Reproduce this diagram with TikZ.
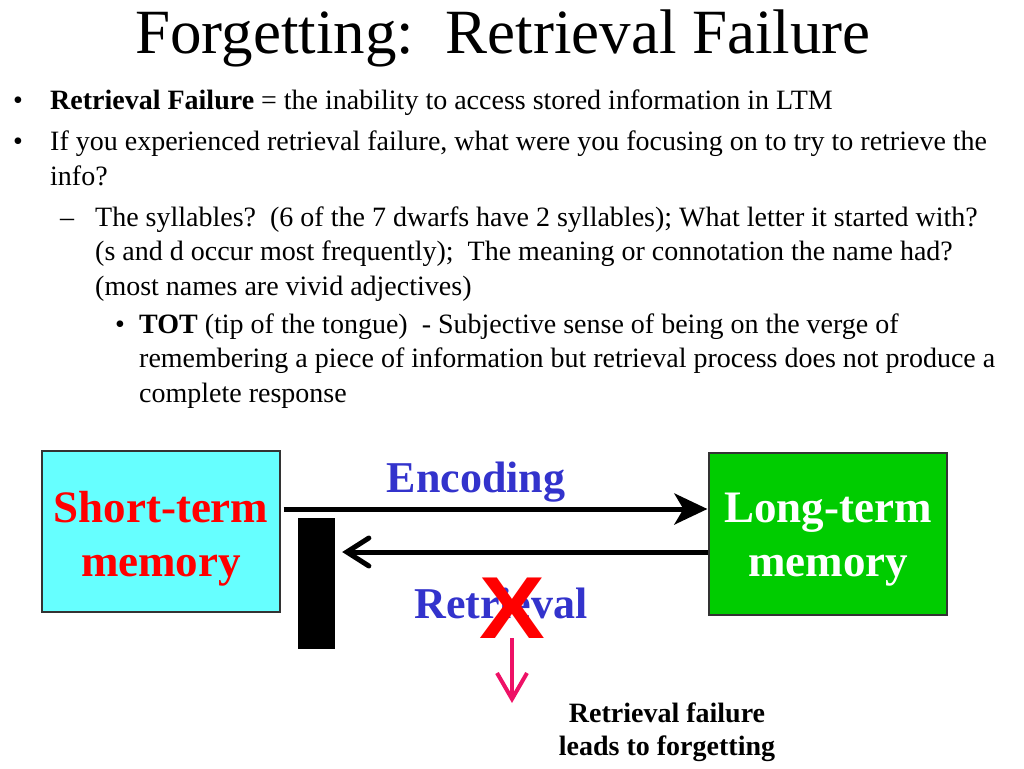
\documentclass[tikz,border=0pt]{standalone}
\usepackage{fontspec}
\setmainfont{Liberation Serif}
\newfontfamily\arialx{Liberation Sans}
\usetikzlibrary{arrows.meta}
\definecolor{cyx}{RGB}{102,255,255}
\definecolor{grx}{RGB}{0,204,0}
\definecolor{blx}{RGB}{51,51,204}
\definecolor{pkx}{RGB}{238,17,102}

\begin{document}
\begin{tikzpicture}[x=1pt,y=-1pt,
    body/.style={anchor=base west,inner sep=0pt,align=left,font=\fontsize{28}{34.5}\selectfont},
    dotmark/.style={anchor=base,inner sep=0pt,font=\fontsize{28}{34.5}\selectfont},
    membox/.style={draw=black!80,line width=1.2pt,minimum width=238pt,minimum height=161pt,inner sep=0pt},
    memtext/.style={inner sep=0pt,align=center,font=\fontsize{45}{54}\selectfont\bfseries},
    arrowtext/.style={anchor=base,inner sep=0pt,text=blx,font=\fontsize{44}{44}\selectfont\bfseries},
    fat/.style={line width=5pt}]
    \useasboundingbox (0,0) rectangle (1024,768);

    \node[anchor=base,inner sep=0pt,font=\fontsize{63}{63}\selectfont] (head) at (503,53) {Forgetting:\ \ Retrieval Failure};

    % bullets, then the text (multi-line nodes sit on their last line)
    \foreach \n/\x/\y/\s in {a/18/109/•,b/18/150/•,c/67/226/–,d/120/333/•} {
        \node[dotmark] (dot\n) at (\x,\y) {\s};
    }
    \node[body] (line1) at (50,109) {\textbf{Retrieval Failure} = the inability to access stored information in LTM};
    \node[body] (line2) at (50,185) {If you experienced retrieval failure, what were you focusing on to try to retrieve the\\info?};
    \node[body] (line3) at (95,295) {The syllables?\ \ (6 of the 7 dwarfs have 2 syllables); What letter it started with?\\(s and d occur most frequently);\ \ The meaning or connotation the name had?\\(most names are vivid adjectives)};
    \node[body] (line4) at (139,402) {\textbf{TOT} (tip of the tongue)\ \ - Subjective sense of being on the verge of\\remembering a piece of information but retrieval process does not produce a\\complete response};

    % the two stores
    \node[membox,fill=cyx] (stm) at (161,531.5) {};
    \node[memtext,text=red] (stmlabel) at ([yshift=-7pt]stm.center) {Short-term\\memory};
    \node[membox,fill=grx,minimum height=162pt] (ltm) at (828,534) {};
    \node[memtext,text=white] (ltmlabel) at ([yshift=-5.5pt]ltm.center) {Long-term\\memory};
    \node[fill=black,minimum width=37pt,minimum height=131pt,inner sep=0pt] (block) at (316.5,583.5) {};

    \coordinate (enc) at (500,509);
    \coordinate (ret) at (500,552);
    \draw[fat,-{Stealth[length=33pt,width=31pt,inset=9pt]},shorten <=3pt,shorten >=1pt] (stm.east |- enc) -- (ltm.west |- enc);
    \draw[fat,-{Straight Barb[length=22pt,width=28pt,line cap=round]},shorten >=7pt] (ltm.west |- ret) -- (block.east |- ret);
    \node[arrowtext] (enclabel) at (476,492) {Encoding};
    \node[arrowtext] (retlabel) at (501,618) {Retrieval};

    % blocked retrieval
    \node[anchor=base,inner sep=0pt,text=red,font=\arialx\bfseries\fontsize{88}{88}\selectfont] (cross) at (512,638) {\scalebox{1.12}[1]{X}};
    \coordinate (fall) at (512,703);
    \draw[pkx,line width=4pt,-{Straight Barb[length=26pt,width=30pt]}] (cross.south) -- (fall);
    \node[anchor=base,inner sep=0pt,align=center,font=\fontsize{28}{33}\selectfont\bfseries] (note) at (667,755) {Retrieval failure\\leads to forgetting};
\end{tikzpicture}
\end{document}
